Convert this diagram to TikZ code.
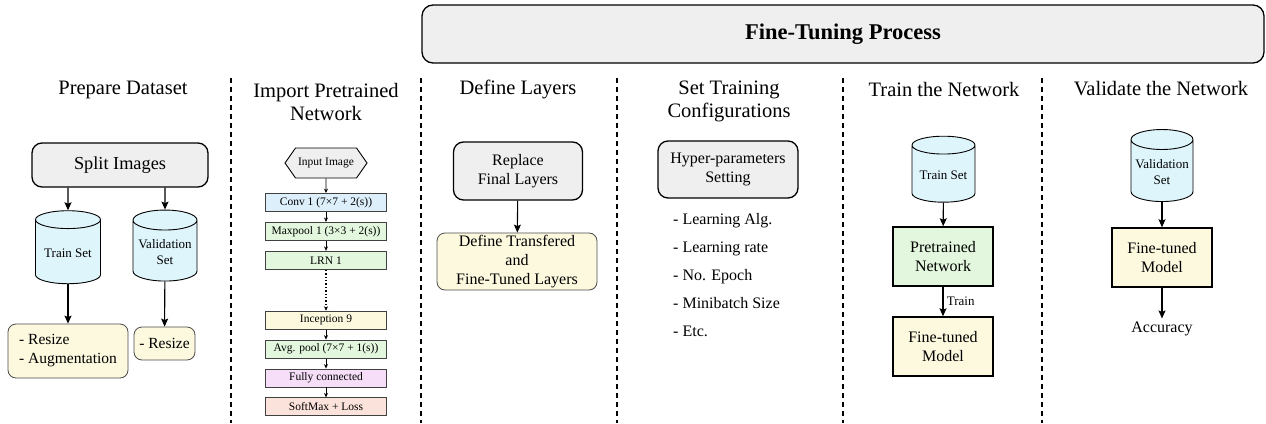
\documentclass[tikz,border=0pt]{standalone}
\usepackage{fontspec}
\setmainfont{Liberation Serif}
\newfontfamily\tnr{Liberation Serif}
\usepackage{xcolor}
\usetikzlibrary{positioning, arrows.meta, shapes.geometric, shapes.symbols}

\definecolor{boxgray}{HTML}{EFEFEF}
\definecolor{dbblue}{HTML}{DFF5FC}
\definecolor{paleyellow}{HTML}{FDF9DF}
\definecolor{palegreen}{HTML}{E3F7DE}
\definecolor{paleblue}{HTML}{DDEFFB}
\definecolor{palepink}{HTML}{F6DDF8}
\definecolor{palesalmon}{HTML}{FBE3DB}

\begin{document}
\begin{tikzpicture}[
      x=1pt, y=-1pt,
      node distance=10pt,
      % Styling nodes
      base/.style={
        draw,
        align=center,
        inner sep=2pt
      },
      title/.style={align=center, font=\tnr\fontsize{20.5}{23}\selectfont},
      graybox/.style={base, rounded corners=10pt, fill=boxgray, line width=1.3pt, font=\tnr\fontsize{16}{19}\selectfont},
      notebox/.style={base, rounded corners=8pt, fill=paleyellow, draw=black!70, line width=0.8pt, font=\tnr\fontsize{16}{19}\selectfont},
      dbase/.style={draw, cylinder, shape border rotate=90, shape aspect=0.36, fill=dbblue, line width=0.9pt,
        align=center, inner sep=1pt, font=\tnr\fontsize{13}{16}\selectfont},
      layer/.style={base, draw=black!75, line width=0.9pt, minimum width=121pt, minimum height=18pt, font=\tnr\fontsize{11.5}{12}\selectfont},
      stage/.style={base, line width=1.5pt, minimum width=100pt, minimum height=59pt, font=\tnr\fontsize{16}{19}\selectfont},
      arrow/.style={-{Stealth[length=8pt, width=7pt, inset=1.5pt]}, line width=1.1pt},
      small arrow/.style={-{Stealth[length=4.5pt, width=4pt]}, line width=0.8pt}
    ]
    \useasboundingbox (0,0) rectangle (1266,423);

    % Fine-tuning banner
    \node (banner) [base, rounded corners=11pt, fill=boxgray, line width=1.3pt, minimum width=842pt, minimum height=58pt,
      font=\tnr\fontsize{22.5}{26}\selectfont\bfseries] at (843,34) {Fine-Tuning Process};

    % Column separators
    \foreach \sx in {231, 421, 617, 843, 1042}
      \draw[line width=1.2pt, dash pattern=on 5pt off 4pt] (\sx,78) -- (\sx,423);

    % Column titles
    \node (t1) [title] at (123,90) {Prepare Dataset};
    \node (t2) [title] at (326,101.5) {Import Pretrained\\Network};
    \node (t3) [title] at (518,89) {Define Layers};
    \node (t4) [title] at (729,101.5) {Set Training\\Configurations};
    \node (t5) [title] at (944,89) {Train the Network};
    \node (t6) [title] at (1161,89) {Validate the Network};

    % Prepare dataset
    \node (split) [graybox, minimum width=176pt, minimum height=44pt, font=\tnr\fontsize{18.3}{20}\selectfont] at (120,165) {Split Images};
    \node (trainset) [dbase, minimum width=65pt, minimum height=73pt] at (68,253) {Train Set};
    \node (valset) [dbase, minimum width=64pt, minimum height=71pt] at (165,252) {Validation\\Set};
    \node (augm) [notebox, align=left, minimum width=120pt, minimum height=54pt, font=\tnr\fontsize{15.5}{19}\selectfont] at (68,351) {- Resize\\- Augmentation};
    \node (resize) [notebox, minimum width=61pt, minimum height=33pt, font=\tnr\fontsize{15.5}{19}\selectfont] at (164.5,343.5) {- Resize};

    \draw[arrow] (split.south -| trainset) -- (trainset.north);
    \draw[arrow] (split.south -| valset) -- (valset.north);
    \draw[arrow] (trainset) -- (augm);
    \draw[arrow] (valset) -- (resize);

    % Pretrained network layers
    \node (input) [draw, shape=signal, signal to=west and east, signal pointer angle=110, fill=boxgray, line width=0.9pt,
      minimum width=82pt, minimum height=30pt, inner sep=1pt, font=\tnr\fontsize{11.5}{12}\selectfont] at (326,163) {Input Image};
    \node (conv) [layer, fill=paleblue] at (326,202.5) {Conv 1 (7×7 + 2(s))};
    \node (maxpool) [layer, fill=palegreen, below=of conv] {Maxpool 1 (3×3 + 2(s))};
    \node (lrn) [layer, fill=palegreen, below=of maxpool] {LRN 1};
    \node (incep) [layer, fill=paleyellow, below=41pt of lrn] {Inception 9};
    \node (avgpool) [layer, fill=palegreen, below=of incep] {Avg. pool (7×7 + 1(s))};
    \node (fc) [layer, fill=palepink, below=of avgpool] {Fully connected};
    \node (softmax) [layer, fill=palesalmon, below=of fc] {SoftMax + Loss};

    \draw[small arrow] (input) -- (conv);
    \draw[small arrow] (conv) -- (maxpool);
    \draw[small arrow] (maxpool) -- (lrn);
    \draw[small arrow, line width=1.4pt, dotted] (lrn) -- (incep);
    \draw[small arrow] (incep) -- (avgpool);
    \draw[small arrow] (avgpool) -- (fc);
    \draw[small arrow] (fc) -- (softmax);

    % Define layers
    \node (replace) [graybox, minimum width=129pt, minimum height=58pt] at (518,171) {Replace\\Final Layers};
    \node (transfer) [notebox, minimum width=160pt, minimum height=57pt] at (517,261.5) {Define Transfered\\and\\Fine-Tuned Layers};
    \draw[arrow] (replace) -- (transfer);

    % Training configurations
    \node (hyper) [graybox, minimum width=140pt, minimum height=57pt] at (728,169.5) {Hyper-parameters\\Setting};
    \node (options) [align=left, anchor=north west, inner sep=0pt, font=\tnr\fontsize{16}{28}\selectfont] at (673,213)
      {- Learning Alg.\\- Learning rate\\- No. Epoch\\- Minibatch Size\\- Etc.};

    % Train the network
    \node (trainset2) [dbase, minimum width=63pt, minimum height=66pt] at (943.5,175) {Train Set};
    \node (pretrained) [stage, fill=palegreen] at (943,256.5) {Pretrained\\Network};
    \node (tuned) [stage, fill=paleyellow] at (943,346.5) {Fine-tuned\\Model};
    \draw[arrow] (trainset2) -- (pretrained);
    \draw[arrow] (pretrained) -- node[right, font=\tnr\fontsize{13}{15}\selectfont] {Train} (tuned);

    % Validate the network
    \node (valset2) [dbase, minimum width=62pt, minimum height=72pt] at (1162,172) {Validation\\Set};
    \node (tuned2) [stage, fill=paleyellow] at (1162,257.5) {Fine-tuned\\Model};
    \node (accuracy) [font=\tnr\fontsize{16}{17}\selectfont] at (1162,329) {Accuracy};
    \draw[arrow] (valset2) -- (tuned2);
    \draw[arrow] (tuned2) -- (accuracy);

  \end{tikzpicture}
\end{document}
